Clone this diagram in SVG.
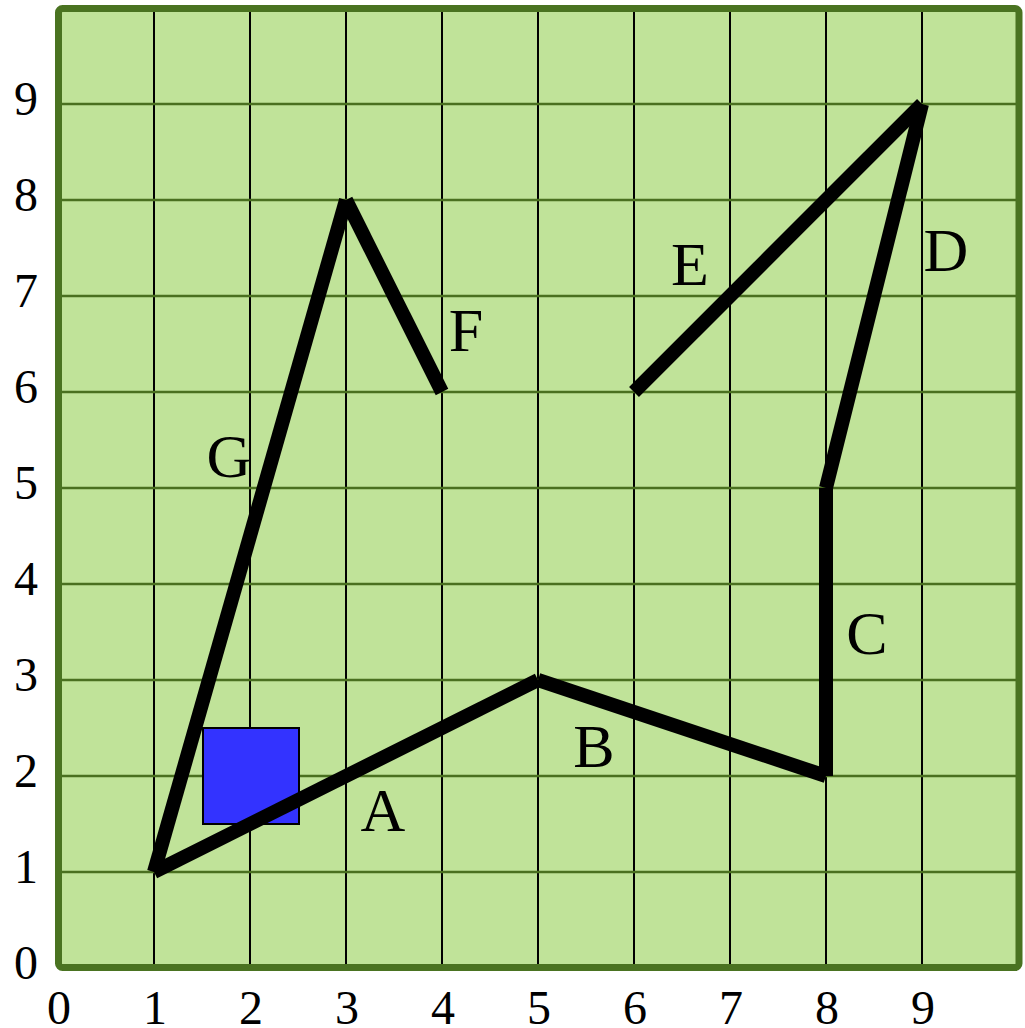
<svg xmlns="http://www.w3.org/2000/svg" width="1025" height="1028" viewBox="0 0 1025 1028">
<style>
.vg{stroke:#000;stroke-width:2}
.hg{stroke:#4a7020;stroke-width:2.5}
.seg{stroke:#000;stroke-width:14;stroke-linecap:butt;fill:none}
.lbl{font-family:"Liberation Serif","Times New Roman",serif;font-size:62px;fill:#000;text-anchor:middle}
.ax{font-family:"Liberation Serif","Times New Roman",serif;font-size:48px;fill:#000;text-anchor:middle}
</style>
<rect x="58" y="8" width="961" height="960" fill="#c0e399"/>
<g id="grid">
<line class="vg" x1="154" y1="8" x2="154" y2="968"/>
<line class="vg" x1="250" y1="8" x2="250" y2="968"/>
<line class="vg" x1="346" y1="8" x2="346" y2="968"/>
<line class="vg" x1="442" y1="8" x2="442" y2="968"/>
<line class="vg" x1="538" y1="8" x2="538" y2="968"/>
<line class="vg" x1="634" y1="8" x2="634" y2="968"/>
<line class="vg" x1="730" y1="8" x2="730" y2="968"/>
<line class="vg" x1="826" y1="8" x2="826" y2="968"/>
<line class="vg" x1="922" y1="8" x2="922" y2="968"/>
<line class="hg" x1="58" y1="872" x2="1019" y2="872"/>
<line class="hg" x1="58" y1="776" x2="1019" y2="776"/>
<line class="hg" x1="58" y1="680" x2="1019" y2="680"/>
<line class="hg" x1="58" y1="584" x2="1019" y2="584"/>
<line class="hg" x1="58" y1="488" x2="1019" y2="488"/>
<line class="hg" x1="58" y1="392" x2="1019" y2="392"/>
<line class="hg" x1="58" y1="296" x2="1019" y2="296"/>
<line class="hg" x1="58" y1="200" x2="1019" y2="200"/>
<line class="hg" x1="58" y1="104" x2="1019" y2="104"/>
</g>
<rect x="58.5" y="8.5" width="960.5" height="959" rx="4" fill="none" stroke="#4a7321" stroke-width="7"/>
<g id="axis-labels">
<text class="ax" x="26" y="979">0</text>
<text class="ax" x="26" y="883">1</text>
<text class="ax" x="26" y="787">2</text>
<text class="ax" x="26" y="691">3</text>
<text class="ax" x="26" y="595">4</text>
<text class="ax" x="26" y="499">5</text>
<text class="ax" x="26" y="403">6</text>
<text class="ax" x="26" y="307">7</text>
<text class="ax" x="26" y="211">8</text>
<text class="ax" x="26" y="115">9</text>
<text class="ax" x="59" y="1024">0</text>
<text class="ax" x="155" y="1024">1</text>
<text class="ax" x="251" y="1024">2</text>
<text class="ax" x="347" y="1024">3</text>
<text class="ax" x="443" y="1024">4</text>
<text class="ax" x="539" y="1024">5</text>
<text class="ax" x="635" y="1024">6</text>
<text class="ax" x="731" y="1024">7</text>
<text class="ax" x="827" y="1024">8</text>
<text class="ax" x="923" y="1024">9</text>
</g>
<g id="square">
<rect x="203" y="728" width="96" height="96" fill="#3333ff" stroke="#000" stroke-width="2"/>
</g>
<g id="connectors">
<line class="seg" x1="154" y1="872" x2="538" y2="680"/>
<line class="seg" x1="538" y1="680" x2="826" y2="776"/>
<line class="seg" x1="826" y1="776" x2="826" y2="488"/>
<line class="seg" x1="826" y1="488" x2="922" y2="104"/>
<line class="seg" x1="922" y1="104" x2="634" y2="392"/>
<line class="seg" x1="154" y1="872" x2="346" y2="200"/>
<line class="seg" x1="346" y1="200" x2="442" y2="392"/>
</g>
<g id="labels">
<text class="lbl" x="383" y="831">A</text>
<text class="lbl" x="594" y="767">B</text>
<text class="lbl" x="867" y="654">C</text>
<text class="lbl" x="946" y="271">D</text>
<text class="lbl" x="690" y="285">E</text>
<text class="lbl" x="466" y="351">F</text>
<text class="lbl" x="229" y="477">G</text>
</g>
</svg>
